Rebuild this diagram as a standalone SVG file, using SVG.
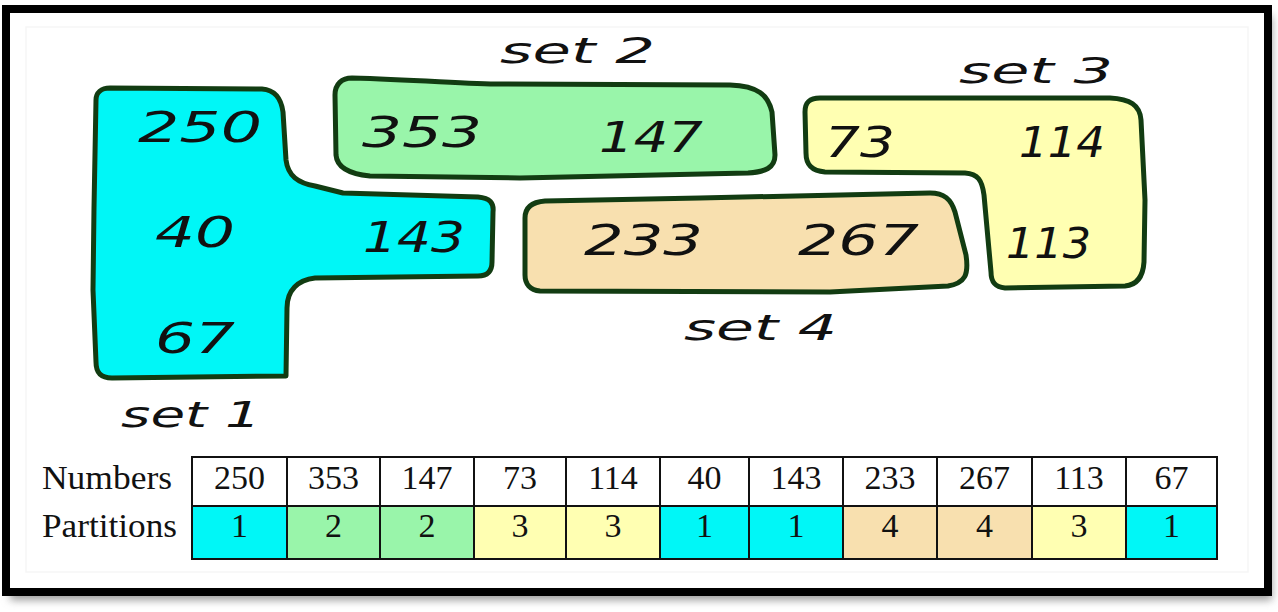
<svg xmlns="http://www.w3.org/2000/svg" width="1278" height="612" viewBox="0 0 1278 612">
  <defs>
    <filter id="shadow" x="-5%" y="-5%" width="110%" height="115%">
      <feGaussianBlur stdDeviation="4"/>
    </filter>
    <style>
      .blob { stroke: #123c12; stroke-width: 5; stroke-linejoin: round; }
      .c1 { fill: #00f7f7; }
      .c2 { fill: #99f5aa; }
      .c3 { fill: #ffffb2; }
      .c4 { fill: #f8e0af; }
      .num { font-family: "DejaVu Sans", "Liberation Sans", sans-serif; font-style: italic; font-size: 42px; fill: #111; }
      .lbl { font-family: "DejaVu Sans", "Liberation Sans", sans-serif; font-style: italic; font-size: 36px; fill: #111; }
      .cell { stroke: #111; stroke-width: 2; }
      .tt { font-family: "Liberation Serif", "Times New Roman", serif; font-size: 34px; fill: #111; }
      .tc { text-anchor: middle; }
    </style>
  </defs>

  <!-- frame -->
  <g id="frame">
    <rect x="10" y="16" width="1262" height="584" fill="#9a9a9a" filter="url(#shadow)"/>
    <rect x="6" y="9" width="1262" height="583" fill="#ffffff" stroke="#000" stroke-width="8"/>
    <rect x="26" y="27" width="1222" height="545" fill="none" stroke="#f6f6f6" stroke-width="1.5"/>
  </g>

  <!-- set 1 -->
  <g id="set1">
    <path class="blob c1" d="M 110 88 L 262 89 C 275 90 281 98 283 112 L 286 160 C 288 176 298 183 315 186 L 343 193 L 478 197 C 490 198 494 203 493 212 L 492 262 C 492 272 487 276 478 276 L 315 278 C 298 280 287 290 287 308 L 286 376 L 112 378 C 100 378 96 372 96 362 L 93 290 L 94 208 L 96 100 C 96 93 101 88 110 88 Z"/>
    <text class="num" x="138" y="142" textLength="124" lengthAdjust="spacingAndGlyphs">250</text>
    <text class="num" x="155" y="247" textLength="80" lengthAdjust="spacingAndGlyphs">40</text>
    <text class="num" x="363" y="252" textLength="102" lengthAdjust="spacingAndGlyphs">143</text>
    <text class="num" x="155" y="353" textLength="80" lengthAdjust="spacingAndGlyphs">67</text>
    <text class="lbl" x="121" y="427" textLength="140" lengthAdjust="spacingAndGlyphs">set 1</text>
  </g>

  <!-- set 2 -->
  <g id="set2">
    <path class="blob c2" d="M 352 78 C 420 80 470 84 500 84 L 730 85 C 758 86 768 95 772 112 L 775 155 C 775 168 765 172 748 173 L 520 178 L 370 176 C 350 174 337 168 336 155 L 335 95 C 335 84 342 78 352 78 Z"/>
    <text class="num" x="362" y="147" textLength="120" lengthAdjust="spacingAndGlyphs">353</text>
    <text class="num" x="599" y="152" textLength="104" lengthAdjust="spacingAndGlyphs">147</text>
    <text class="lbl" x="500" y="63" textLength="155" lengthAdjust="spacingAndGlyphs">set 2</text>
  </g>

  <!-- set 3 -->
  <g id="set3">
    <path class="blob c3" d="M 820 98 L 1110 98 C 1130 99 1140 105 1141 120 L 1145 200 L 1144 262 C 1143 277 1137 285 1125 286 L 1005 288 C 995 287 991 282 991 272 L 984 195 C 982 180 978 174 965 173 L 825 172 C 812 171 806 165 806 153 L 805 112 C 805 102 810 98 820 98 Z"/>
    <text class="num" x="825" y="157" textLength="70" lengthAdjust="spacingAndGlyphs">73</text>
    <text class="num" x="1019" y="157" textLength="86" lengthAdjust="spacingAndGlyphs">114</text>
    <text class="num" x="1006" y="258" textLength="85" lengthAdjust="spacingAndGlyphs">113</text>
    <text class="lbl" x="959" y="83" textLength="154" lengthAdjust="spacingAndGlyphs">set 3</text>
  </g>

  <!-- set 4 -->
  <g id="set4">
    <path class="blob c4" d="M 545 201 L 700 198 L 930 193 C 944 193 951 199 955 212 L 966 255 C 969 275 965 283 948 286 L 830 292 L 540 291 C 530 290 525 284 525 275 L 525 218 C 525 207 532 202 545 201 Z"/>
    <text class="num" x="584" y="255" textLength="119" lengthAdjust="spacingAndGlyphs">233</text>
    <text class="num" x="798" y="255" textLength="121" lengthAdjust="spacingAndGlyphs">267</text>
    <text class="lbl" x="684" y="340" textLength="153" lengthAdjust="spacingAndGlyphs">set 4</text>
  </g>

  <!-- table -->
  <g id="table">
    <text class="tt" x="42" y="489" textLength="130" lengthAdjust="spacingAndGlyphs">Numbers</text>
    <text class="tt" x="42" y="537" textLength="135" lengthAdjust="spacingAndGlyphs">Partitions</text>
    <g id="row-numbers">
      <rect class="cell" x="192" y="457" width="95" height="49" fill="#fff"/>
      <rect class="cell" x="287" y="457" width="93" height="49" fill="#fff"/>
      <rect class="cell" x="380" y="457" width="94" height="49" fill="#fff"/>
      <rect class="cell" x="474" y="457" width="92" height="49" fill="#fff"/>
      <rect class="cell" x="566" y="457" width="94" height="49" fill="#fff"/>
      <rect class="cell" x="660" y="457" width="89" height="49" fill="#fff"/>
      <rect class="cell" x="749" y="457" width="94" height="49" fill="#fff"/>
      <rect class="cell" x="843" y="457" width="94" height="49" fill="#fff"/>
      <rect class="cell" x="937" y="457" width="95" height="49" fill="#fff"/>
      <rect class="cell" x="1032" y="457" width="94" height="49" fill="#fff"/>
      <rect class="cell" x="1126" y="457" width="91" height="49" fill="#fff"/>
      <text class="tt tc" x="239.5" y="489">250</text>
      <text class="tt tc" x="333.5" y="489">353</text>
      <text class="tt tc" x="427" y="489">147</text>
      <text class="tt tc" x="520" y="489">73</text>
      <text class="tt tc" x="613" y="489">114</text>
      <text class="tt tc" x="704.5" y="489">40</text>
      <text class="tt tc" x="796" y="489">143</text>
      <text class="tt tc" x="890" y="489">233</text>
      <text class="tt tc" x="984.5" y="489">267</text>
      <text class="tt tc" x="1079" y="489">113</text>
      <text class="tt tc" x="1171.5" y="489">67</text>
    </g>
    <g id="row-partitions">
      <rect class="cell c1" x="192" y="506" width="95" height="53"/>
      <rect class="cell c2" x="287" y="506" width="93" height="53"/>
      <rect class="cell c2" x="380" y="506" width="94" height="53"/>
      <rect class="cell c3" x="474" y="506" width="92" height="53"/>
      <rect class="cell c3" x="566" y="506" width="94" height="53"/>
      <rect class="cell c1" x="660" y="506" width="89" height="53"/>
      <rect class="cell c1" x="749" y="506" width="94" height="53"/>
      <rect class="cell c4" x="843" y="506" width="94" height="53"/>
      <rect class="cell c4" x="937" y="506" width="95" height="53"/>
      <rect class="cell c3" x="1032" y="506" width="94" height="53"/>
      <rect class="cell c1" x="1126" y="506" width="91" height="53"/>
      <text class="tt tc" x="239.5" y="537">1</text>
      <text class="tt tc" x="333.5" y="537">2</text>
      <text class="tt tc" x="427" y="537">2</text>
      <text class="tt tc" x="520" y="537">3</text>
      <text class="tt tc" x="613" y="537">3</text>
      <text class="tt tc" x="704.5" y="537">1</text>
      <text class="tt tc" x="796" y="537">1</text>
      <text class="tt tc" x="890" y="537">4</text>
      <text class="tt tc" x="984.5" y="537">4</text>
      <text class="tt tc" x="1079" y="537">3</text>
      <text class="tt tc" x="1171.5" y="537">1</text>
    </g>
  </g>
</svg>
